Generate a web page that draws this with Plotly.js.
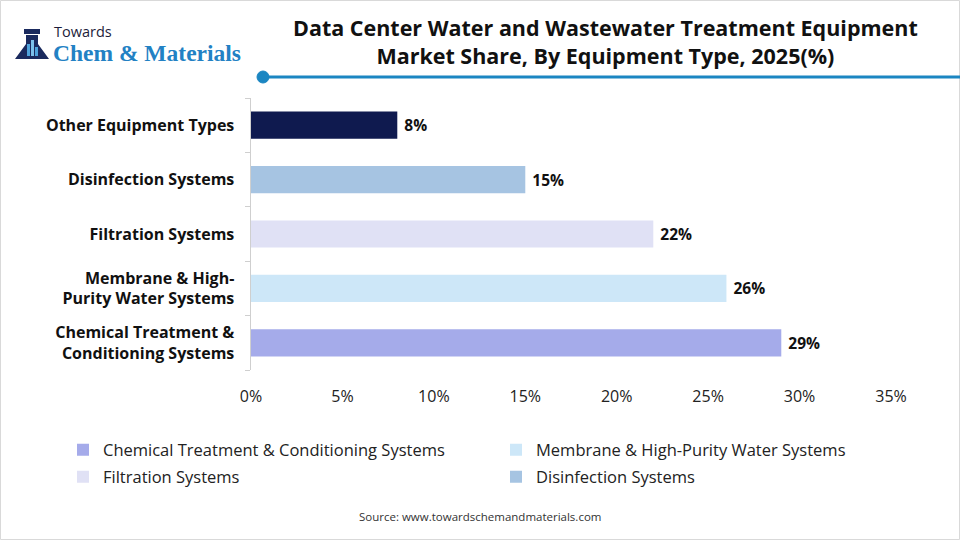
<!DOCTYPE html>
<html>
<head>
<meta charset="utf-8">
<script src="https://cdn.plot.ly/plotly-3.0.1.min.js"></script>
<style>
  html, body { margin: 0; padding: 0; background: #ffffff; }
  #chart { width: 960px; height: 540px; }
</style>
</head>
<body>
<div id="chart"></div>
<script>
// Equipment segments, bottom bar first
const categories = [
  'Chemical Treatment & Conditioning Systems',
  'Membrane & High-Purity Water Systems',
  'Filtration Systems',
  'Disinfection Systems',
  'Other Equipment Types'
];
const axisLabels = [
  'Chemical Treatment &<br>Conditioning Systems',
  'Membrane & High-<br>Purity Water Systems',
  'Filtration Systems',
  'Disinfection Systems',
  'Other Equipment Types'
];
const shares = [29, 26, 22, 15, 8];
const barColors = ['#a5abea', '#cde7f8', '#e0e1f5', '#a6c4e2', '#0f1a4f'];
// legend row of each segment (0 = not listed)
const legendRow = [1, 1, 2, 2, 0];
const xTicks = [0, 5, 10, 15, 20, 25, 30, 35];

const W = 960, H = 540;
const M = { l: 251, r: 69, t: 98, b: 170 };
const PW = W - M.l - M.r, PH = H - M.t - M.b;
// pixel -> paper helpers for decorations
const px = x => (x - M.l) / PW;
const py = y => (H - M.b - y) / PH;

const traces = categories.map((name, i) => ({
  type: 'bar',
  orientation: 'h',
  name: name,
  y: [axisLabels[i]],
  x: [shares[i]],
  width: 0.5,
  marker: { color: barColors[i] },
  text: ['\u00a0' + shares[i] + '%'],
  textposition: 'outside',
  cliponaxis: false,
  textfont: { family: 'Open Sans, sans-serif', size: 15.5, color: '#111111', weight: 'bold' },
  showlegend: legendRow[i] > 0,
  legend: legendRow[i] === 2 ? 'legend2' : 'legend',
  hoverinfo: 'x+y'
}));

// flask icon of the logo
function flaskPath() {
  const pts = [[26, 35], [38, 35], [38, 44], [49, 59], [15, 59], [26, 44]];
  return 'M' + pts.map(p => px(p[0]) + ',' + py(p[1])).join(' L') + ' Z';
}
const shapes = [
  // outer frame
  { type: 'rect', xref: 'paper', yref: 'paper', x0: px(0.5), x1: px(959.5), y0: py(0.5), y1: py(539.5),
    line: { color: '#d9d9d9', width: 1 }, fillcolor: 'rgba(0,0,0,0)', layer: 'above' },
  // title rule with dot
  { type: 'line', xref: 'paper', yref: 'paper', x0: px(264), x1: px(960), y0: py(77), y1: py(77),
    line: { color: '#1b86c2', width: 3 } },
  { type: 'circle', xref: 'paper', yref: 'paper', x0: px(257), x1: px(269), y0: py(71), y1: py(83),
    line: { color: '#1b86c2', width: 1 }, fillcolor: '#1b86c2' },
  // logo flask
  { type: 'path', xref: 'paper', yref: 'paper', path: flaskPath(), fillcolor: '#1a2a5e', line: { width: 0 } },
  { type: 'rect', xref: 'paper', yref: 'paper', x0: px(24), x1: px(40), y0: py(29), y1: py(34),
    fillcolor: '#1a2a5e', line: { width: 0 } },
  { type: 'rect', xref: 'paper', yref: 'paper', x0: px(27), x1: px(30), y0: py(56), y1: py(44),
    fillcolor: '#4fa3dc', line: { width: 0 } },
  { type: 'rect', xref: 'paper', yref: 'paper', x0: px(31), x1: px(34), y0: py(56), y1: py(40),
    fillcolor: '#7cc0ea', line: { width: 0 } },
  { type: 'rect', xref: 'paper', yref: 'paper', x0: px(35), x1: px(38), y0: py(56), y1: py(47),
    fillcolor: '#4fa3dc', line: { width: 0 } }
];

const annotations = [
  { text: '<b>Data Center Water and Wastewater Treatment Equipment<br>Market Share, By Equipment Type, 2025(%)</b>',
    xref: 'paper', yref: 'paper', x: px(605), y: py(41), xanchor: 'center', yanchor: 'middle',
    showarrow: false, align: 'center',
    font: { family: 'Open Sans, sans-serif', size: 21.5, color: '#111111' } },
  { text: 'Towards', xref: 'paper', yref: 'paper', x: px(52), y: py(31), xanchor: 'left', yanchor: 'middle',
    showarrow: false, font: { family: 'Open Sans, sans-serif', size: 14.5, color: '#1c1c3a' } },
  { text: '<b>Chem &amp; Materials</b>', xref: 'paper', yref: 'paper', x: px(51), y: py(52.5), xanchor: 'left', yanchor: 'middle',
    showarrow: false, font: { family: 'Liberation Serif, serif', size: 23.5, color: '#2281c4' } },
  { text: 'Source: www.towardschemandmaterials.com', xref: 'paper', yref: 'paper', x: px(480), y: py(516),
    xanchor: 'center', yanchor: 'middle', showarrow: false,
    font: { family: 'Open Sans, sans-serif', size: 11.5, color: '#333333' } }
];

const legendBase = {
  orientation: 'h', x: px(63), xanchor: 'left', yanchor: 'middle',
  entrywidth: 388, traceorder: 'normal',
  font: { size: 16.5, color: '#222222' }, bgcolor: 'rgba(0,0,0,0)'
};

const layout = {
  width: W, height: H,
  margin: M,
  paper_bgcolor: '#ffffff', plot_bgcolor: '#ffffff',
  barmode: 'overlay',
  showlegend: true,
  font: { family: 'Open Sans, sans-serif', color: '#222222' },
  xaxis: {
    range: [0, 35], tickvals: xTicks, ticktext: xTicks.map(v => v + '%'),
    showgrid: false, zeroline: false, showline: false, ticks: '',
    tickfont: { size: 16, color: '#222222' }, ticklabelstandoff: 15, fixedrange: true
  },
  yaxis: {
    type: 'category', categoryorder: 'array', categoryarray: axisLabels,
    showline: true, linecolor: '#cfcfcf', linewidth: 1.5,
    ticks: 'outside', tickson: 'boundaries', ticklen: 5, tickcolor: '#cfcfcf',
    showgrid: false, zeroline: false,
    tickfont: { size: 16, color: '#111111', weight: 'bold' }, ticklabelstandoff: 12, fixedrange: true
  },
  legend: Object.assign({}, legendBase, { y: py(450) }),
  legend2: Object.assign({}, legendBase, { y: py(477) }),
  shapes: shapes,
  annotations: annotations
};

Plotly.newPlot('chart', traces, layout, { displayModeBar: false, staticPlot: true });
</script>
</body>
</html>
